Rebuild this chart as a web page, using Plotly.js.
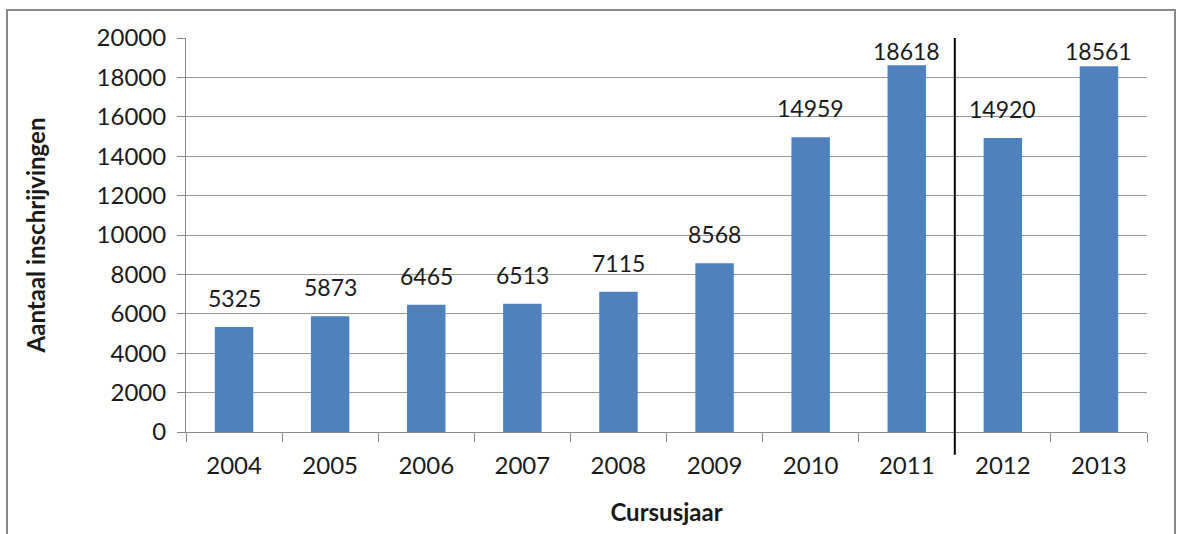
<!DOCTYPE html>
<html><head><meta charset="utf-8">
<script src="https://cdn.plot.ly/plotly-3.0.1.min.js"></script>
<style>html,body{margin:0;padding:0;background:#fff;}#chart{width:1181px;height:534px;}</style>
</head><body><div id="chart"></div>
<script>
const years = ["2004","2005","2006","2007","2008","2009","2010","2011","2012","2013"];
const inschrijvingen = [5325,5873,6465,6513,7115,8568,14959,18618,14920,18561];
const yTicks = [0,2000,4000,6000,8000,10000,12000,14000,16000,18000,20000];

const font = "Lato, 'Liberation Sans', sans-serif";
const txt = "#1a1a1a";
const trace = {
  type: "bar", x: years, y: inschrijvingen,
  marker: {color: "#4F81BD"},
  width: 0.4, hoverinfo: "skip"
};
const plotH = 394, yMax = 20000;
const annotations = years.map((yr, i) => {
  const v = inschrijvingen[i];
  const room = (yMax - v) / yMax * plotH;
  return {
    x: i, y: v, xref: "x", yref: "y", text: String(v), showarrow: false,
    yanchor: "bottom", yshift: Math.min(13, room - 29),
    font: {family: font, size: 23, color: txt}
  };
});
const layout = {
  width: 1181, height: 534,
  margin: {l: 186, r: 34, t: 38, b: 102},
  paper_bgcolor: "#fff", plot_bgcolor: "#fff",
  showlegend: false,
  font: {family: font, size: 24, color: txt},
  xaxis: {
    type: "category", range: [-0.5, years.length - 0.5], autorange: false,
    tickson: "boundaries", ticks: "outside", ticklen: 9, tickcolor: "#888", tickwidth: 1,
    showline: true, linecolor: "#888", linewidth: 1, showgrid: false,
    ticklabelstandoff: 12,
    tickfont: {family: font, size: 24, color: txt},
    title: {text: "<b>Cursusjaar</b>", font: {family: font, size: 24, color: txt}, standoff: 26}
  },
  yaxis: {
    range: [0, 20000], tickvals: yTicks, ticktext: yTicks.map(String),
    ticks: "outside", ticklen: 8, tickcolor: "#888", tickwidth: 1,
    showline: true, linecolor: "#888", linewidth: 1,
    showgrid: true, gridcolor: "#999", gridwidth: 1, zeroline: false,
    ticklabelstandoff: 6,
    tickfont: {family: font, size: 24, color: txt},
    title: {text: "<b>Aantaal inschrijvingen</b>", font: {family: font, size: 24, color: txt}, standoff: 44}
  },
  annotations: annotations,
  shapes: [
    {type: "line", xref: "paper", yref: "paper", x0: 0.8, x1: 0.8, y0: -0.058, y1: 1, line: {color: "#000", width: 2}},
    {type: "rect", xref: "paper", yref: "paper", x0: -179/961, x1: 1 + 28/961, y0: -1.0, y1: 1 + 28/394, line: {color: "#888", width: 2}, fillcolor: "rgba(0,0,0,0)", layer: "below"}
  ]
};
Plotly.newPlot("chart", [trace], layout, {staticPlot: true, displayModeBar: false});
</script></body></html>
